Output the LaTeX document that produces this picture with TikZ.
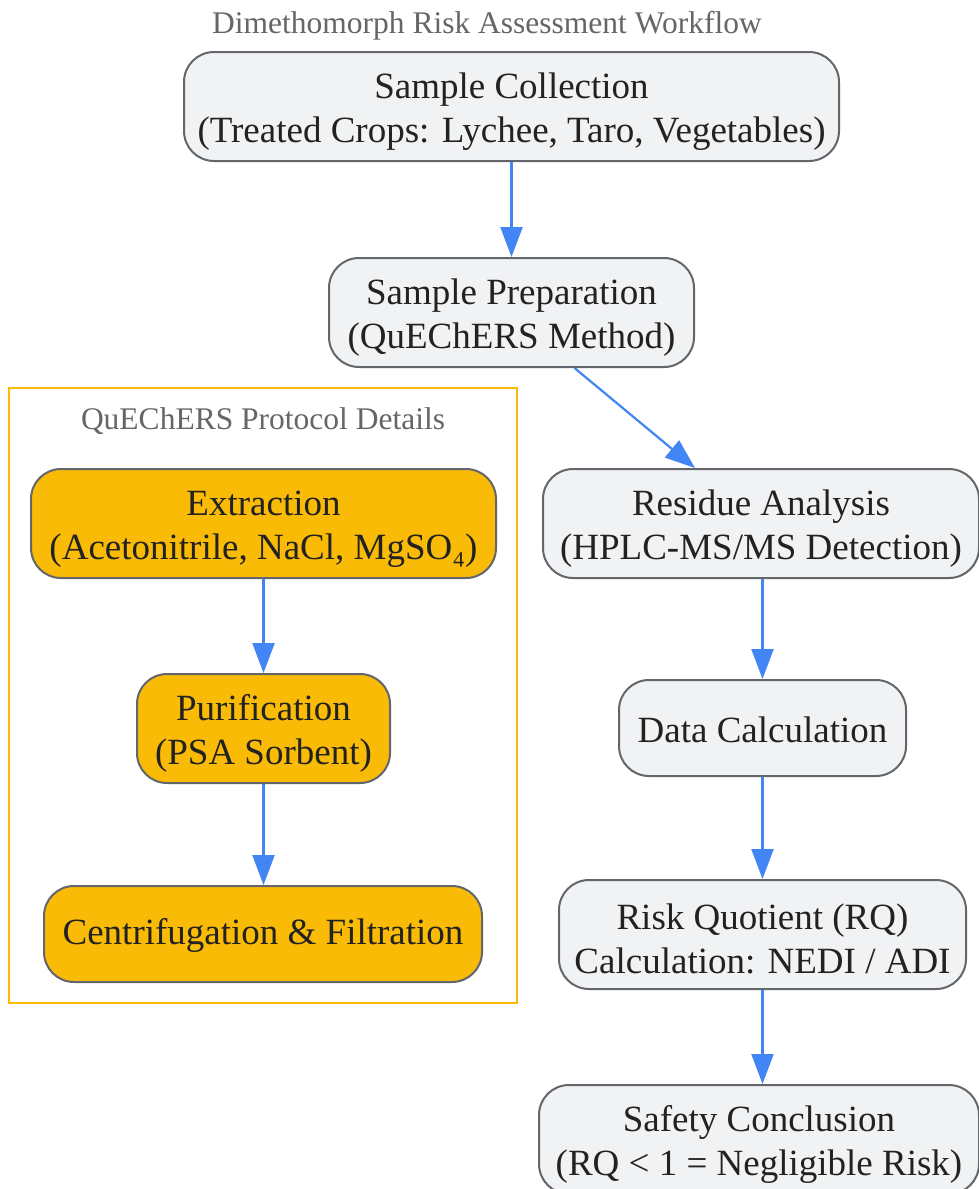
\documentclass[tikz,border=0pt]{standalone}
\usepackage{fontspec}
\setmainfont{Liberation Serif}
\usetikzlibrary{arrows.meta}
\definecolor{nodefill}{HTML}{F1F2F4}
\definecolor{nodeline}{HTML}{63666A}
\definecolor{amber}{HTML}{F9BB06}
\definecolor{arrowblue}{HTML}{4285F4}
\definecolor{txt}{HTML}{222222}
\definecolor{titlegrey}{HTML}{666666}
\newcommand{\twoup}{\rule{0pt}{35pt}}
\newcommand{\oneup}{\rule{0pt}{29pt}}
\tikzset{
  box/.style={draw=nodeline, line width=2pt, fill=nodefill, rounded corners=30pt,
    align=center, text=txt, inner sep=0pt,
    font=\fontsize{37}{44}\selectfont},
  hbox/.style={box, fill=amber},
  flow/.style={draw=arrowblue, line width=2.2pt, -{Triangle[length=30pt,width=22pt]}},
  lbl/.style={text=titlegrey, font=\fontsize{31.5}{36}\selectfont}
}
\begin{document}
\begin{tikzpicture}[x=1pt,y=1pt]
\useasboundingbox (0,0) rectangle (979,-1189);
\fill[white] (0,0) rectangle (979,-1189);
% cluster
\draw[amber, line width=2pt] (9,-388) rectangle (517,-1003);
\node[lbl] (clabel) at (263,-421) {QuEChERS Protocol Details};
\node[lbl] (title) at (487,-26) {Dimethomorph Risk Assessment Workflow};
% nodes
\node[box, minimum width=655pt, minimum height=109pt] (collect) at (511.5,-106.5)
  {\twoup Sample Collection\\(Treated Crops: Lychee, Taro, Vegetables)};
\node[box, minimum width=365pt, minimum height=109pt] (prep) at (511.5,-312.5)
  {\twoup Sample Preparation\\(QuEChERS Method)};
\node[hbox, minimum width=465pt, minimum height=109pt] (extract) at (263.5,-523.5)
  {\twoup Extraction\\(Acetonitrile, NaCl, MgSO₄)};
\node[hbox, minimum width=253pt, minimum height=109pt] (purify) at (263.5,-728.5)
  {\twoup Purification\\(PSA Sorbent)};
\node[hbox, minimum width=438pt, minimum height=96pt] (centri) at (263,-934)
  {\oneup Centrifugation \& Filtration};
\node[box, minimum width=436pt, minimum height=109pt] (residue) at (761,-523.5)
  {\twoup Residue Analysis\\(HPLC-MS/MS Detection)};
\node[box, minimum width=287pt, minimum height=96pt] (data) at (762.5,-728)
  {\oneup Data Calculation};
\node[box, minimum width=407pt, minimum height=109pt] (rq) at (762.5,-934.5)
  {\twoup Risk Quotient (RQ)\\Calculation: NEDI / ADI};
\node[box, minimum width=440pt, minimum height=109pt] (safety) at (759,-1139.5)
  {\twoup Safety Conclusion\\(RQ < 1 = Negligible Risk)};
% connectors
\draw[flow] (collect.south) -- (prep.north);
\draw[flow] ([xshift=63pt]prep.south) -- ([xshift=-66pt]residue.north);
\draw[flow] (data.north |- residue.south) -- (data.north);
\draw[flow] (data.south) -- (rq.north);
\draw[flow] (rq.south) -- (rq.south |- safety.north);
\draw[flow] (extract.south) -- (purify.north);
\draw[flow] (purify.south) -- (purify.south |- centri.north);
\end{tikzpicture}
\end{document}
